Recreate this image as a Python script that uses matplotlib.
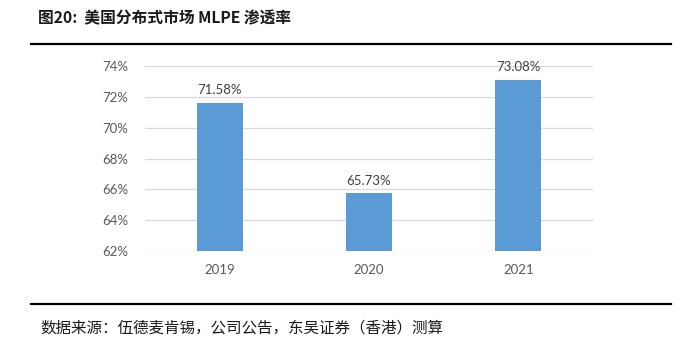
import numpy as np
import matplotlib.pyplot as plt
from matplotlib.lines import Line2D

years = ['2019', '2020', '2021']
penetration = [71.58, 65.73, 73.08]
yticks = [62, 64, 66, 68, 70, 72, 74]

plt.rcParams['font.family'] = ['Lato', 'DejaVu Sans']

fig = plt.figure(figsize=(6.91, 3.5), dpi=100)
ax = fig.add_axes([145/691, 1-251/350, 448/691, 185/350])

x = np.arange(len(years))
ax.bar(x, penetration, width=0.31, color='#5B9BD5', zorder=3, bottom=0)
for xi, v in zip(x, penetration):
    ax.text(xi, v + 0.45, f'{v:.2f}%', ha='center', va='bottom',
            fontsize=9.5, color='#404040')

ax.set_xlim(-0.5, 2.5)
ax.set_ylim(62, 74)
ax.set_yticks(yticks)
ax.set_yticklabels([f'{t}%' for t in yticks])
ax.set_xticks(x)
ax.set_xticklabels(years)
ax.tick_params(axis='both', length=0, labelsize=9.5, colors='#595959')
ax.tick_params(axis='y', pad=12)
ax.tick_params(axis='x', pad=9)
ax.grid(axis='y', color='#D9D9D9', linewidth=0.9, zorder=0)
for s in ax.spines.values():
    s.set_visible(False)

fig.text(38/691, 1-18/350, '图20:  美国分布式市场 MLPE 渗透率',
         family=['Noto Sans CJK SC', 'DejaVu Sans'], fontweight='bold',
         fontsize=11.3, color='#1a1a1a', va='center', ha='left')
fig.add_artist(Line2D([31/691, 671/691], [1-44/350, 1-44/350],
                      color='black', linewidth=1.6, transform=fig.transFigure))
fig.add_artist(Line2D([31/691, 671/691], [1-304/350, 1-304/350],
                      color='black', linewidth=1.6, transform=fig.transFigure))
fig.text(40/691, 1-328/350, '数据来源：伍德麦肯锡，公司公告，东吴证券（香港）测算',
         family=['Noto Sans CJK SC', 'DejaVu Sans'], fontsize=11.2,
         color='#1a1a1a', va='center', ha='left')

fig.savefig('out.png', dpi=100)
